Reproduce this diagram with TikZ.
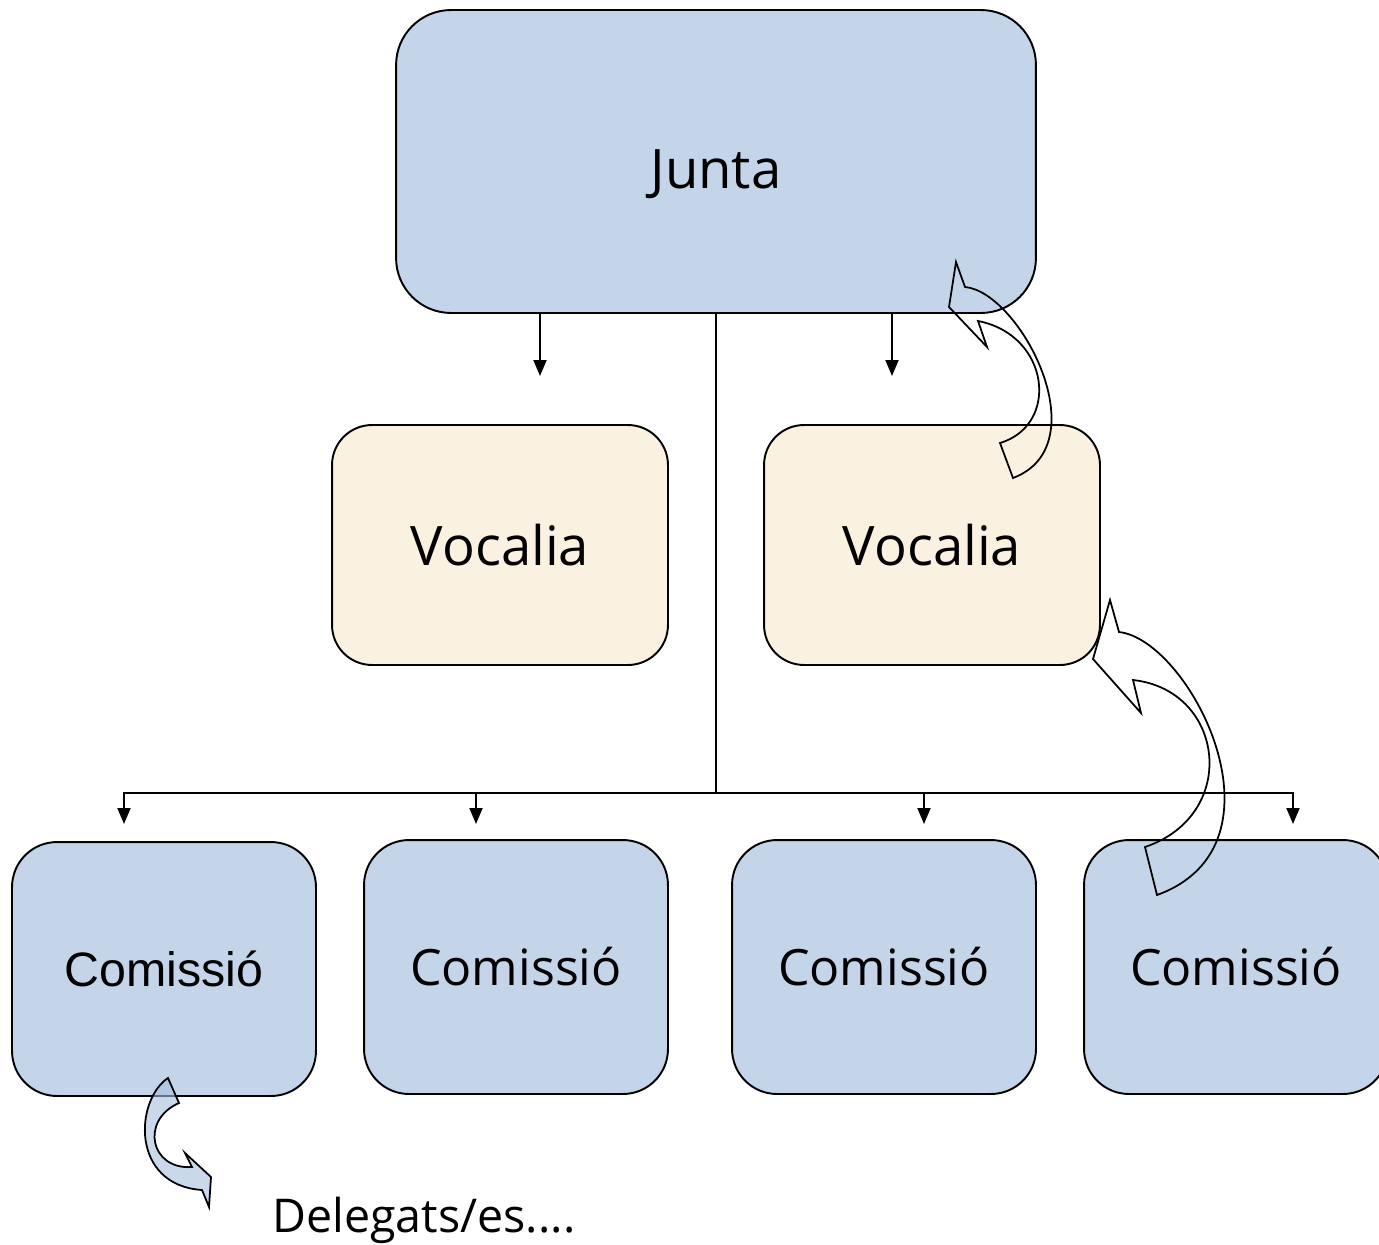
\documentclass[tikz,border=0pt]{standalone}
\usepackage{fontspec}
\setmainfont{Open Sans}
\newfontfamily\arialfont{Liberation Sans}
\usetikzlibrary{arrows.meta}

\definecolor{juntablue}{RGB}{197,213,233}
\definecolor{vocaliacream}{RGB}{251,241,225}
\definecolor{arrowblue}{RGB}{165,190,222}

\tikzset{
  juntabox/.style={draw, fill=juntablue, rounded corners=1.1cm, inner sep=0pt, outer sep=0pt,
    minimum width=12.8cm, minimum height=6.06cm, font=\fontsize{31}{36}\selectfont},
  vocaliabox/.style={draw, fill=vocaliacream, rounded corners=0.8cm, inner sep=0pt, outer sep=0pt,
    minimum width=6.72cm, minimum height=4.8cm, font=\fontsize{31}{36}\selectfont},
  comissiobox/.style={draw, fill=juntablue, rounded corners=0.9cm, inner sep=0pt, outer sep=0pt,
    minimum width=6.08cm, minimum height=5.08cm, font=\fontsize{28.5}{34}\selectfont},
  downarrow/.style={-{Triangle[length=0.32cm,width=0.26cm]}},
  curvedarrow/.style={draw, line width=1pt, line join=miter}
}

\begin{document}
\begin{tikzpicture}[x=0.02cm, y=-0.02cm, line width=1.1pt]

\useasboundingbox (0,0) rectangle (1379,1244);

% boxes
\node [juntabox] (junta) at (716,161.5) {\smash{\raisebox{-0.54cm}{Junta}}};
\node [vocaliabox] (vocalia1) at (500,545) {Vocalia};
\node [vocaliabox] (vocalia2) at (932,545) {Vocalia};
\node [comissiobox, font=\arialfont\fontsize{27.5}{33}\selectfont] (comissio1) at (164,969) {Comissió};
\node [comissiobox] (comissio2) at (516,967) {Comissió};
\node [comissiobox] (comissio3) at (884,967) {Comissió};
\node [comissiobox] (comissio4) at (1236,967) {Comissió};
\node [font=\fontsize{26.5}{32}\selectfont] (delegats) at (424,1220) {Delegats/es....};

% tree lines
\coordinate (vtip1) at (540,376);
\coordinate (vtip2) at (892,376);
\coordinate (bus) at (716,793);
\draw[downarrow] (junta.south -| vtip1) -- (vtip1);
\draw[downarrow] (junta.south -| vtip2) -- (vtip2);
\draw (junta.south) -- (bus);
\foreach \n/\x in {1/124, 2/476, 3/924, 4/1293} {
  \coordinate (ctip\n) at (\x,824);
  \draw[downarrow] (bus) -| (ctip\n);
}

% curved arrows
\draw [curvedarrow] (956,262) -- (965,287) .. controls (1020,292) and (1100,445) .. (1013,478)
  -- (1000,443) .. controls (1060,425) and (1050,335) .. (978,321) -- (987,347) -- (949,307) -- cycle;
\draw [curvedarrow] (1110,600) -- (1119,632) .. controls (1190,640) and (1295,845) .. (1157,895)
  -- (1145,847) .. controls (1240,815) and (1225,690) .. (1133,680) -- (1141,713) -- (1093,659) -- cycle;
\draw [curvedarrow, fill=arrowblue, fill opacity=0.6] (168,1078) .. controls (135,1100) and (130,1185) .. (202,1190)
  -- (209,1207) -- (211,1177) -- (185,1153) -- (192,1167) .. controls (150,1170) and (140,1120) .. (179,1103) -- cycle;

\end{tikzpicture}
\end{document}
